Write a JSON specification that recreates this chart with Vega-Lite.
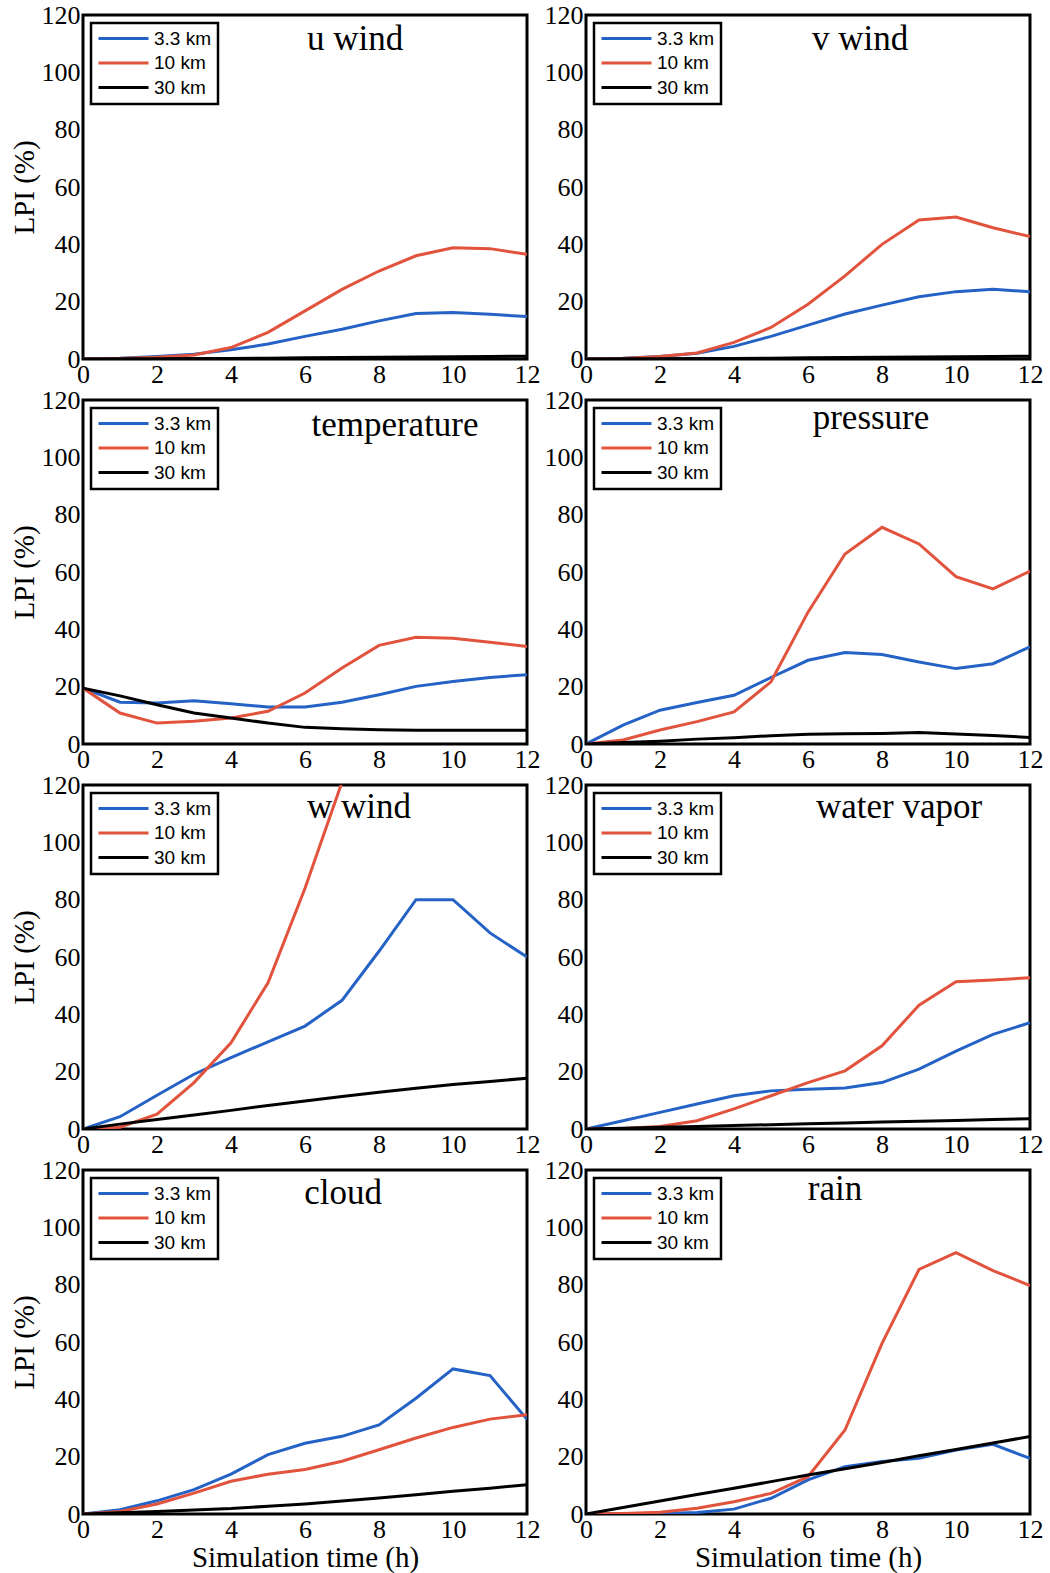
{
  "$schema": "https://vega.github.io/schema/vega-lite/v6.json",
  "background": "white",
  "padding": {"left": 8, "top": 0, "right": 3, "bottom": 0},
  "data": {"values": [
    {"p":"u","s":"3.3 km","t":0,"v":0},{"p":"u","s":"3.3 km","t":1,"v":0.3},{"p":"u","s":"3.3 km","t":2,"v":0.9},{"p":"u","s":"3.3 km","t":3,"v":1.7},{"p":"u","s":"3.3 km","t":4,"v":3.2},{"p":"u","s":"3.3 km","t":5,"v":5.2},{"p":"u","s":"3.3 km","t":6,"v":7.9},{"p":"u","s":"3.3 km","t":7,"v":10.4},{"p":"u","s":"3.3 km","t":8,"v":13.3},{"p":"u","s":"3.3 km","t":9,"v":15.9},{"p":"u","s":"3.3 km","t":10,"v":16.2},{"p":"u","s":"3.3 km","t":11,"v":15.6},{"p":"u","s":"3.3 km","t":12,"v":14.8},
    {"p":"u","s":"10 km","t":0,"v":0},{"p":"u","s":"10 km","t":1,"v":0.2},{"p":"u","s":"10 km","t":2,"v":0.6},{"p":"u","s":"10 km","t":3,"v":1.4},{"p":"u","s":"10 km","t":4,"v":4},{"p":"u","s":"10 km","t":5,"v":9.3},{"p":"u","s":"10 km","t":6,"v":16.8},{"p":"u","s":"10 km","t":7,"v":24.3},{"p":"u","s":"10 km","t":8,"v":30.7},{"p":"u","s":"10 km","t":9,"v":36},{"p":"u","s":"10 km","t":10,"v":38.8},{"p":"u","s":"10 km","t":11,"v":38.5},{"p":"u","s":"10 km","t":12,"v":36.5},
    {"p":"u","s":"30 km","t":0,"v":0},{"p":"u","s":"30 km","t":1,"v":0.05},{"p":"u","s":"30 km","t":2,"v":0.1},{"p":"u","s":"30 km","t":3,"v":0.15},{"p":"u","s":"30 km","t":4,"v":0.2},{"p":"u","s":"30 km","t":5,"v":0.3},{"p":"u","s":"30 km","t":6,"v":0.4},{"p":"u","s":"30 km","t":7,"v":0.5},{"p":"u","s":"30 km","t":8,"v":0.6},{"p":"u","s":"30 km","t":9,"v":0.7},{"p":"u","s":"30 km","t":10,"v":0.8},{"p":"u","s":"30 km","t":11,"v":0.9},{"p":"u","s":"30 km","t":12,"v":1},

    {"p":"v","s":"3.3 km","t":0,"v":0},{"p":"v","s":"3.3 km","t":1,"v":0.3},{"p":"v","s":"3.3 km","t":2,"v":0.9},{"p":"v","s":"3.3 km","t":3,"v":2},{"p":"v","s":"3.3 km","t":4,"v":4.4},{"p":"v","s":"3.3 km","t":5,"v":7.9},{"p":"v","s":"3.3 km","t":6,"v":11.8},{"p":"v","s":"3.3 km","t":7,"v":15.7},{"p":"v","s":"3.3 km","t":8,"v":18.8},{"p":"v","s":"3.3 km","t":9,"v":21.7},{"p":"v","s":"3.3 km","t":10,"v":23.5},{"p":"v","s":"3.3 km","t":11,"v":24.3},{"p":"v","s":"3.3 km","t":12,"v":23.5},
    {"p":"v","s":"10 km","t":0,"v":0},{"p":"v","s":"10 km","t":1,"v":0.2},{"p":"v","s":"10 km","t":2,"v":0.9},{"p":"v","s":"10 km","t":3,"v":2.1},{"p":"v","s":"10 km","t":4,"v":5.8},{"p":"v","s":"10 km","t":5,"v":11},{"p":"v","s":"10 km","t":6,"v":19.1},{"p":"v","s":"10 km","t":7,"v":29},{"p":"v","s":"10 km","t":8,"v":40},{"p":"v","s":"10 km","t":9,"v":48.5},{"p":"v","s":"10 km","t":10,"v":49.5},{"p":"v","s":"10 km","t":11,"v":45.8},{"p":"v","s":"10 km","t":12,"v":42.7},
    {"p":"v","s":"30 km","t":0,"v":0},{"p":"v","s":"30 km","t":1,"v":0.05},{"p":"v","s":"30 km","t":2,"v":0.1},{"p":"v","s":"30 km","t":3,"v":0.15},{"p":"v","s":"30 km","t":4,"v":0.2},{"p":"v","s":"30 km","t":5,"v":0.3},{"p":"v","s":"30 km","t":6,"v":0.4},{"p":"v","s":"30 km","t":7,"v":0.5},{"p":"v","s":"30 km","t":8,"v":0.6},{"p":"v","s":"30 km","t":9,"v":0.7},{"p":"v","s":"30 km","t":10,"v":0.8},{"p":"v","s":"30 km","t":11,"v":0.9},{"p":"v","s":"30 km","t":12,"v":1},

    {"p":"T","s":"3.3 km","t":0,"v":19.5},{"p":"T","s":"3.3 km","t":1,"v":14.6},{"p":"T","s":"3.3 km","t":2,"v":14.3},{"p":"T","s":"3.3 km","t":3,"v":15.1},{"p":"T","s":"3.3 km","t":4,"v":14},{"p":"T","s":"3.3 km","t":5,"v":12.9},{"p":"T","s":"3.3 km","t":6,"v":12.9},{"p":"T","s":"3.3 km","t":7,"v":14.6},{"p":"T","s":"3.3 km","t":8,"v":17.2},{"p":"T","s":"3.3 km","t":9,"v":20.1},{"p":"T","s":"3.3 km","t":10,"v":21.8},{"p":"T","s":"3.3 km","t":11,"v":23.2},{"p":"T","s":"3.3 km","t":12,"v":24.2},
    {"p":"T","s":"10 km","t":0,"v":19.5},{"p":"T","s":"10 km","t":1,"v":10.8},{"p":"T","s":"10 km","t":2,"v":7.3},{"p":"T","s":"10 km","t":3,"v":7.9},{"p":"T","s":"10 km","t":4,"v":9.1},{"p":"T","s":"10 km","t":5,"v":11.4},{"p":"T","s":"10 km","t":6,"v":17.8},{"p":"T","s":"10 km","t":7,"v":26.5},{"p":"T","s":"10 km","t":8,"v":34.4},{"p":"T","s":"10 km","t":9,"v":37.2},{"p":"T","s":"10 km","t":10,"v":36.9},{"p":"T","s":"10 km","t":11,"v":35.5},{"p":"T","s":"10 km","t":12,"v":34},
    {"p":"T","s":"30 km","t":0,"v":19.5},{"p":"T","s":"30 km","t":1,"v":16.8},{"p":"T","s":"30 km","t":2,"v":13.7},{"p":"T","s":"30 km","t":3,"v":10.8},{"p":"T","s":"30 km","t":4,"v":9.1},{"p":"T","s":"30 km","t":5,"v":7.3},{"p":"T","s":"30 km","t":6,"v":5.8},{"p":"T","s":"30 km","t":7,"v":5.3},{"p":"T","s":"30 km","t":8,"v":5},{"p":"T","s":"30 km","t":9,"v":4.8},{"p":"T","s":"30 km","t":10,"v":4.8},{"p":"T","s":"30 km","t":11,"v":4.8},{"p":"T","s":"30 km","t":12,"v":4.8},

    {"p":"P","s":"3.3 km","t":0,"v":0},{"p":"P","s":"3.3 km","t":1,"v":6.6},{"p":"P","s":"3.3 km","t":2,"v":11.8},{"p":"P","s":"3.3 km","t":3,"v":14.5},{"p":"P","s":"3.3 km","t":4,"v":17},{"p":"P","s":"3.3 km","t":5,"v":23.2},{"p":"P","s":"3.3 km","t":6,"v":29.2},{"p":"P","s":"3.3 km","t":7,"v":31.9},{"p":"P","s":"3.3 km","t":8,"v":31.2},{"p":"P","s":"3.3 km","t":9,"v":28.6},{"p":"P","s":"3.3 km","t":10,"v":26.3},{"p":"P","s":"3.3 km","t":11,"v":28},{"p":"P","s":"3.3 km","t":12,"v":33.9},
    {"p":"P","s":"10 km","t":0,"v":0},{"p":"P","s":"10 km","t":1,"v":1.4},{"p":"P","s":"10 km","t":2,"v":4.9},{"p":"P","s":"10 km","t":3,"v":7.8},{"p":"P","s":"10 km","t":4,"v":11.2},{"p":"P","s":"10 km","t":5,"v":21.7},{"p":"P","s":"10 km","t":6,"v":46},{"p":"P","s":"10 km","t":7,"v":66.3},{"p":"P","s":"10 km","t":8,"v":75.6},{"p":"P","s":"10 km","t":9,"v":69.8},{"p":"P","s":"10 km","t":10,"v":58.4},{"p":"P","s":"10 km","t":11,"v":54.1},{"p":"P","s":"10 km","t":12,"v":60.3},
    {"p":"P","s":"30 km","t":0,"v":0},{"p":"P","s":"30 km","t":1,"v":0.5},{"p":"P","s":"30 km","t":2,"v":1},{"p":"P","s":"30 km","t":3,"v":1.7},{"p":"P","s":"30 km","t":4,"v":2.2},{"p":"P","s":"30 km","t":5,"v":2.9},{"p":"P","s":"30 km","t":6,"v":3.4},{"p":"P","s":"30 km","t":7,"v":3.6},{"p":"P","s":"30 km","t":8,"v":3.7},{"p":"P","s":"30 km","t":9,"v":4},{"p":"P","s":"30 km","t":10,"v":3.5},{"p":"P","s":"30 km","t":11,"v":3},{"p":"P","s":"30 km","t":12,"v":2.3},

    {"p":"w","s":"3.3 km","t":0,"v":0},{"p":"w","s":"3.3 km","t":1,"v":4.3},{"p":"w","s":"3.3 km","t":2,"v":11.8},{"p":"w","s":"3.3 km","t":3,"v":19.1},{"p":"w","s":"3.3 km","t":4,"v":24.9},{"p":"w","s":"3.3 km","t":5,"v":30.4},{"p":"w","s":"3.3 km","t":6,"v":35.9},{"p":"w","s":"3.3 km","t":7,"v":44.9},{"p":"w","s":"3.3 km","t":8,"v":62},{"p":"w","s":"3.3 km","t":9,"v":80},{"p":"w","s":"3.3 km","t":10,"v":80},{"p":"w","s":"3.3 km","t":11,"v":68.4},{"p":"w","s":"3.3 km","t":12,"v":60},
    {"p":"w","s":"10 km","t":0,"v":0},{"p":"w","s":"10 km","t":1,"v":0.6},{"p":"w","s":"10 km","t":2,"v":5.2},{"p":"w","s":"10 km","t":3,"v":16.2},{"p":"w","s":"10 km","t":4,"v":30.1},{"p":"w","s":"10 km","t":5,"v":51},{"p":"w","s":"10 km","t":6,"v":84},{"p":"w","s":"10 km","t":7,"v":121},
    {"p":"w","s":"30 km","t":0,"v":0},{"p":"w","s":"30 km","t":1,"v":1.7},{"p":"w","s":"30 km","t":2,"v":3.3},{"p":"w","s":"30 km","t":3,"v":4.9},{"p":"w","s":"30 km","t":4,"v":6.5},{"p":"w","s":"30 km","t":5,"v":8.2},{"p":"w","s":"30 km","t":6,"v":9.8},{"p":"w","s":"30 km","t":7,"v":11.3},{"p":"w","s":"30 km","t":8,"v":12.8},{"p":"w","s":"30 km","t":9,"v":14.2},{"p":"w","s":"30 km","t":10,"v":15.5},{"p":"w","s":"30 km","t":11,"v":16.6},{"p":"w","s":"30 km","t":12,"v":17.7},

    {"p":"q","s":"3.3 km","t":0,"v":0},{"p":"q","s":"3.3 km","t":1,"v":2.9},{"p":"q","s":"3.3 km","t":2,"v":5.8},{"p":"q","s":"3.3 km","t":3,"v":8.7},{"p":"q","s":"3.3 km","t":4,"v":11.6},{"p":"q","s":"3.3 km","t":5,"v":13.3},{"p":"q","s":"3.3 km","t":6,"v":13.9},{"p":"q","s":"3.3 km","t":7,"v":14.3},{"p":"q","s":"3.3 km","t":8,"v":16.2},{"p":"q","s":"3.3 km","t":9,"v":20.9},{"p":"q","s":"3.3 km","t":10,"v":27.2},{"p":"q","s":"3.3 km","t":11,"v":33},{"p":"q","s":"3.3 km","t":12,"v":37.1},
    {"p":"q","s":"10 km","t":0,"v":0},{"p":"q","s":"10 km","t":1,"v":0.2},{"p":"q","s":"10 km","t":2,"v":0.9},{"p":"q","s":"10 km","t":3,"v":2.9},{"p":"q","s":"10 km","t":4,"v":7},{"p":"q","s":"10 km","t":5,"v":11.6},{"p":"q","s":"10 km","t":6,"v":16.2},{"p":"q","s":"10 km","t":7,"v":20.3},{"p":"q","s":"10 km","t":8,"v":29},{"p":"q","s":"10 km","t":9,"v":43.2},{"p":"q","s":"10 km","t":10,"v":51.4},{"p":"q","s":"10 km","t":11,"v":52},{"p":"q","s":"10 km","t":12,"v":52.8},
    {"p":"q","s":"30 km","t":0,"v":0},{"p":"q","s":"30 km","t":1,"v":0.3},{"p":"q","s":"30 km","t":2,"v":0.6},{"p":"q","s":"30 km","t":3,"v":0.9},{"p":"q","s":"30 km","t":4,"v":1.2},{"p":"q","s":"30 km","t":5,"v":1.5},{"p":"q","s":"30 km","t":6,"v":1.8},{"p":"q","s":"30 km","t":7,"v":2.1},{"p":"q","s":"30 km","t":8,"v":2.4},{"p":"q","s":"30 km","t":9,"v":2.7},{"p":"q","s":"30 km","t":10,"v":3},{"p":"q","s":"30 km","t":11,"v":3.3},{"p":"q","s":"30 km","t":12,"v":3.6},

    {"p":"c","s":"3.3 km","t":0,"v":0},{"p":"c","s":"3.3 km","t":1,"v":1.5},{"p":"c","s":"3.3 km","t":2,"v":4.6},{"p":"c","s":"3.3 km","t":3,"v":8.5},{"p":"c","s":"3.3 km","t":4,"v":13.9},{"p":"c","s":"3.3 km","t":5,"v":20.7},{"p":"c","s":"3.3 km","t":6,"v":24.7},{"p":"c","s":"3.3 km","t":7,"v":27.1},{"p":"c","s":"3.3 km","t":8,"v":31.1},{"p":"c","s":"3.3 km","t":9,"v":40.4},{"p":"c","s":"3.3 km","t":10,"v":50.6},{"p":"c","s":"3.3 km","t":11,"v":48.3},{"p":"c","s":"3.3 km","t":12,"v":33},
    {"p":"c","s":"10 km","t":0,"v":0},{"p":"c","s":"10 km","t":1,"v":0.9},{"p":"c","s":"10 km","t":2,"v":3.5},{"p":"c","s":"10 km","t":3,"v":7.3},{"p":"c","s":"10 km","t":4,"v":11.4},{"p":"c","s":"10 km","t":5,"v":13.9},{"p":"c","s":"10 km","t":6,"v":15.5},{"p":"c","s":"10 km","t":7,"v":18.4},{"p":"c","s":"10 km","t":8,"v":22.4},{"p":"c","s":"10 km","t":9,"v":26.5},{"p":"c","s":"10 km","t":10,"v":30.2},{"p":"c","s":"10 km","t":11,"v":33.1},{"p":"c","s":"10 km","t":12,"v":34.6},
    {"p":"c","s":"30 km","t":0,"v":0},{"p":"c","s":"30 km","t":1,"v":0.4},{"p":"c","s":"30 km","t":2,"v":0.9},{"p":"c","s":"30 km","t":3,"v":1.4},{"p":"c","s":"30 km","t":4,"v":1.9},{"p":"c","s":"30 km","t":5,"v":2.7},{"p":"c","s":"30 km","t":6,"v":3.5},{"p":"c","s":"30 km","t":7,"v":4.5},{"p":"c","s":"30 km","t":8,"v":5.6},{"p":"c","s":"30 km","t":9,"v":6.7},{"p":"c","s":"30 km","t":10,"v":7.9},{"p":"c","s":"30 km","t":11,"v":9},{"p":"c","s":"30 km","t":12,"v":10.2},

    {"p":"r","s":"3.3 km","t":0,"v":0},{"p":"r","s":"3.3 km","t":1,"v":0},{"p":"r","s":"3.3 km","t":2,"v":0.2},{"p":"r","s":"3.3 km","t":3,"v":0.5},{"p":"r","s":"3.3 km","t":4,"v":1.7},{"p":"r","s":"3.3 km","t":5,"v":5.5},{"p":"r","s":"3.3 km","t":6,"v":11.9},{"p":"r","s":"3.3 km","t":7,"v":16.5},{"p":"r","s":"3.3 km","t":8,"v":18.3},{"p":"r","s":"3.3 km","t":9,"v":19.4},{"p":"r","s":"3.3 km","t":10,"v":22.3},{"p":"r","s":"3.3 km","t":11,"v":24.3},{"p":"r","s":"3.3 km","t":12,"v":19.4},
    {"p":"r","s":"10 km","t":0,"v":0},{"p":"r","s":"10 km","t":1,"v":0.2},{"p":"r","s":"10 km","t":2,"v":0.6},{"p":"r","s":"10 km","t":3,"v":2},{"p":"r","s":"10 km","t":4,"v":4.3},{"p":"r","s":"10 km","t":5,"v":7.2},{"p":"r","s":"10 km","t":6,"v":13},{"p":"r","s":"10 km","t":7,"v":29.3},{"p":"r","s":"10 km","t":8,"v":59.5},{"p":"r","s":"10 km","t":9,"v":85.3},{"p":"r","s":"10 km","t":10,"v":91.2},{"p":"r","s":"10 km","t":11,"v":84.9},{"p":"r","s":"10 km","t":12,"v":79.7},
    {"p":"r","s":"30 km","t":0,"v":0},{"p":"r","s":"30 km","t":1,"v":2.3},{"p":"r","s":"30 km","t":2,"v":4.5},{"p":"r","s":"30 km","t":3,"v":6.8},{"p":"r","s":"30 km","t":4,"v":9},{"p":"r","s":"30 km","t":5,"v":11.3},{"p":"r","s":"30 km","t":6,"v":13.6},{"p":"r","s":"30 km","t":7,"v":15.8},{"p":"r","s":"30 km","t":8,"v":18},{"p":"r","s":"30 km","t":9,"v":20.3},{"p":"r","s":"30 km","t":10,"v":22.5},{"p":"r","s":"30 km","t":11,"v":24.8},{"p":"r","s":"30 km","t":12,"v":27}
  ]},
  "columns": 2,
  "bounds": "flush",
  "spacing": {"row": 41, "column": 59},
  "resolve": {"legend": {"color": "independent"}},
  "concat": [
    {"width": 444, "height": 344, "title": {"text": "u wind", "dx": 50, "dy": 59},
     "transform": [{"filter": "datum.p === 'u'"}],
     "mark": {"type": "line", "strokeWidth": 3, "clip": true},
     "encoding": {
       "x": {"field": "t", "type": "quantitative", "scale": {"domain": [0, 12], "nice": false}, "axis": {"values": [0,2,4,6,8,10,12], "title": null}},
       "y": {"field": "v", "type": "quantitative", "scale": {"domain": [0, 120], "nice": false}, "axis": {"values": [0,20,40,60,80,100,120], "title": "LPI (%)"}},
       "color": {"field": "s", "type": "nominal", "scale": {"domain": ["3.3 km", "10 km", "30 km"], "range": ["#2462c6", "#e2533d", "#000000"]}, "legend": {"title": null}}
     }},
    {"width": 444, "height": 344, "title": {"text": "v wind", "dx": 52, "dy": 59},
     "transform": [{"filter": "datum.p === 'v'"}],
     "mark": {"type": "line", "strokeWidth": 3, "clip": true},
     "encoding": {
       "x": {"field": "t", "type": "quantitative", "scale": {"domain": [0, 12], "nice": false}, "axis": {"values": [0,2,4,6,8,10,12], "title": null}},
       "y": {"field": "v", "type": "quantitative", "scale": {"domain": [0, 120], "nice": false}, "axis": {"values": [0,20,40,60,80,100,120], "title": null}},
       "color": {"field": "s", "type": "nominal", "scale": {"domain": ["3.3 km", "10 km", "30 km"], "range": ["#2462c6", "#e2533d", "#000000"]}, "legend": {"title": null}}
     }},
    {"width": 444, "height": 344, "title": {"text": "temperature", "dx": 90, "dy": 60},
     "transform": [{"filter": "datum.p === 'T'"}],
     "mark": {"type": "line", "strokeWidth": 3, "clip": true},
     "encoding": {
       "x": {"field": "t", "type": "quantitative", "scale": {"domain": [0, 12], "nice": false}, "axis": {"values": [0,2,4,6,8,10,12], "title": null}},
       "y": {"field": "v", "type": "quantitative", "scale": {"domain": [0, 120], "nice": false}, "axis": {"values": [0,20,40,60,80,100,120], "title": "LPI (%)"}},
       "color": {"field": "s", "type": "nominal", "scale": {"domain": ["3.3 km", "10 km", "30 km"], "range": ["#2462c6", "#e2533d", "#000000"]}, "legend": {"title": null}}
     }},
    {"width": 444, "height": 344, "title": {"text": "pressure", "dx": 63, "dy": 53},
     "transform": [{"filter": "datum.p === 'P'"}],
     "mark": {"type": "line", "strokeWidth": 3, "clip": true},
     "encoding": {
       "x": {"field": "t", "type": "quantitative", "scale": {"domain": [0, 12], "nice": false}, "axis": {"values": [0,2,4,6,8,10,12], "title": null}},
       "y": {"field": "v", "type": "quantitative", "scale": {"domain": [0, 120], "nice": false}, "axis": {"values": [0,20,40,60,80,100,120], "title": null}},
       "color": {"field": "s", "type": "nominal", "scale": {"domain": ["3.3 km", "10 km", "30 km"], "range": ["#2462c6", "#e2533d", "#000000"]}, "legend": {"title": null}}
     }},
    {"width": 444, "height": 344, "title": {"text": "w wind", "dx": 54, "dy": 57},
     "transform": [{"filter": "datum.p === 'w'"}],
     "mark": {"type": "line", "strokeWidth": 3, "clip": true},
     "encoding": {
       "x": {"field": "t", "type": "quantitative", "scale": {"domain": [0, 12], "nice": false}, "axis": {"values": [0,2,4,6,8,10,12], "title": null}},
       "y": {"field": "v", "type": "quantitative", "scale": {"domain": [0, 120], "nice": false}, "axis": {"values": [0,20,40,60,80,100,120], "title": "LPI (%)"}},
       "color": {"field": "s", "type": "nominal", "scale": {"domain": ["3.3 km", "10 km", "30 km"], "range": ["#2462c6", "#e2533d", "#000000"]}, "legend": {"title": null}}
     }},
    {"width": 444, "height": 344, "title": {"text": "water vapor", "dx": 91, "dy": 57},
     "transform": [{"filter": "datum.p === 'q'"}],
     "mark": {"type": "line", "strokeWidth": 3, "clip": true},
     "encoding": {
       "x": {"field": "t", "type": "quantitative", "scale": {"domain": [0, 12], "nice": false}, "axis": {"values": [0,2,4,6,8,10,12], "title": null}},
       "y": {"field": "v", "type": "quantitative", "scale": {"domain": [0, 120], "nice": false}, "axis": {"values": [0,20,40,60,80,100,120], "title": null}},
       "color": {"field": "s", "type": "nominal", "scale": {"domain": ["3.3 km", "10 km", "30 km"], "range": ["#2462c6", "#e2533d", "#000000"]}, "legend": {"title": null}}
     }},
    {"width": 444, "height": 344, "title": {"text": "cloud", "dx": 38, "dy": 58},
     "transform": [{"filter": "datum.p === 'c'"}],
     "mark": {"type": "line", "strokeWidth": 3, "clip": true},
     "encoding": {
       "x": {"field": "t", "type": "quantitative", "scale": {"domain": [0, 12], "nice": false}, "axis": {"values": [0,2,4,6,8,10,12], "title": "Simulation time (h)"}},
       "y": {"field": "v", "type": "quantitative", "scale": {"domain": [0, 120], "nice": false}, "axis": {"values": [0,20,40,60,80,100,120], "title": "LPI (%)"}},
       "color": {"field": "s", "type": "nominal", "scale": {"domain": ["3.3 km", "10 km", "30 km"], "range": ["#2462c6", "#e2533d", "#000000"]}, "legend": {"title": null}}
     }},
    {"width": 444, "height": 344, "title": {"text": "rain", "dx": 27, "dy": 54},
     "transform": [{"filter": "datum.p === 'r'"}],
     "mark": {"type": "line", "strokeWidth": 3, "clip": true},
     "encoding": {
       "x": {"field": "t", "type": "quantitative", "scale": {"domain": [0, 12], "nice": false}, "axis": {"values": [0,2,4,6,8,10,12], "title": "Simulation time (h)"}},
       "y": {"field": "v", "type": "quantitative", "scale": {"domain": [0, 120], "nice": false}, "axis": {"values": [0,20,40,60,80,100,120], "title": null}},
       "color": {"field": "s", "type": "nominal", "scale": {"domain": ["3.3 km", "10 km", "30 km"], "range": ["#2462c6", "#e2533d", "#000000"]}, "legend": {"title": null}}
     }}
  ],
  "config": {
    "view": {"stroke": "#000000", "strokeWidth": 3},
    "title": {"font": "Liberation Serif", "fontSize": 35, "fontWeight": "normal", "color": "#000000", "anchor": "middle", "frame": "group", "baseline": "alphabetic", "offset": 0},
    "axis": {
      "labelFont": "Liberation Serif", "labelFontSize": 26, "labelColor": "#000000", "labelPadding": 3,
      "labelFlush": false, "labelOverlap": false,
      "titleFont": "Liberation Serif", "titleFontSize": 29, "titleFontWeight": "normal", "titleColor": "#000000", "titlePadding": 2,
      "domain": false, "ticks": false, "grid": false
    },
    "axisX": {"labelPadding": 2, "titlePadding": 1},
    "legend": {
      "orient": "top-left", "offset": 8, "padding": 6,
      "strokeColor": "#000000", "strokeWidth": 2.5, "fillColor": "#ffffff",
      "labelFont": "Liberation Sans", "labelFontSize": 19, "labelColor": "#000000", "labelOffset": 4,
      "symbolType": "stroke", "symbolSize": 2500, "symbolStrokeWidth": 3, "rowPadding": 4.5, "clipHeight": 19
    }
  }
}
